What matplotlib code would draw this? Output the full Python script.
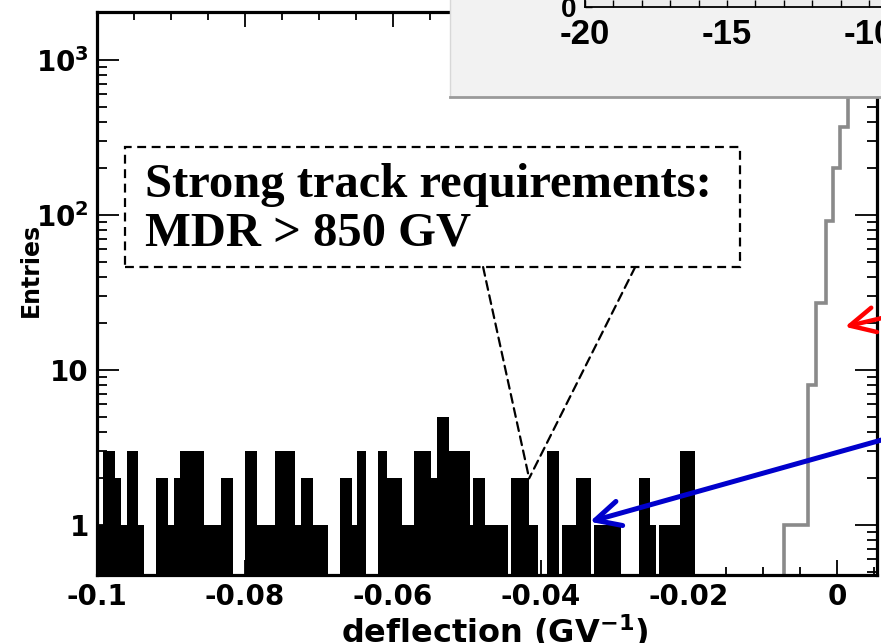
import numpy as np
import matplotlib
matplotlib.use("Agg")
import matplotlib.pyplot as plt
from matplotlib.ticker import FixedLocator, LogLocator, MultipleLocator, NullFormatter
from matplotlib.patches import Rectangle

# histograma preto (eventos com requisitos fortes de traco), bordas dos bins em GV^-1
black_edges = [-0.1000, -0.0992, -0.0976, -0.0968, -0.0960, -0.0944, -0.0936, -0.0920,
               -0.0904, -0.0896, -0.0888, -0.0856, -0.0832, -0.0816, -0.0800, -0.0784,
               -0.0760, -0.0732, -0.0724, -0.0708, -0.0688, -0.0672, -0.0656, -0.0648,
               -0.0636, -0.0620, -0.0608, -0.0588, -0.0572, -0.0548, -0.0540, -0.0524,
               -0.0496, -0.0492, -0.0476, -0.0444, -0.0440, -0.0416, -0.0404, -0.0392,
               -0.0376, -0.0372, -0.0352, -0.0332, -0.0328, -0.0292, -0.0268, -0.0252,
               -0.0244, -0.0240, -0.0212, -0.0192]
black_counts = [1, 3, 2, 1, 3, 1, 0, 2, 1, 2, 3, 1, 2, 0, 3, 1, 3, 1, 2, 1, 0, 2, 1, 3,
                0, 3, 2, 1, 3, 2, 5, 3, 1, 2, 1, 0, 2, 1, 0, 3, 0, 1, 2, 0, 1, 0, 2, 1,
                0, 1, 3]

# histograma cinza (pico perto de zero)
gray_edges = [-0.0071, -0.0060, -0.0050, -0.0039, -0.0028, -0.0015, -0.0005, 0.0004,
              0.0015, 0.0100]
gray_counts = [1, 1, 1, 8, 27, 92, 200, 370, 5000]

ytick_vals = [1, 10, 100, 1000]
ytick_labels = ["1", "10", r"$10^{2}$", r"$10^{3}$"]
xtick_vals = [-0.1, -0.08, -0.06, -0.04, -0.02, 0]
xtick_labels = ["-0.1", "-0.08", "-0.06", "-0.04", "-0.02", "0"]
inset_xticks = [-20, -15, -10]

plt.rcParams["font.family"] = ["DejaVu Sans"]
plt.rcParams["font.weight"] = "bold"
plt.rcParams["mathtext.default"] = "bf"

W, H = 881, 643
fig = plt.figure(figsize=(W / 100, H / 100), dpi=100)
fig.patch.set_facecolor("white")

ax = fig.add_axes([97 / W, 1 - 575 / H, 780 / W, 563 / H])
ymin, ymax = 0.476, 2040
base = 0.1

bc = np.array(black_counts, dtype=float)
ax.stairs(np.where(bc > 0, bc, base), black_edges, baseline=base, fill=True,
          color="black", zorder=2)
ax.stairs(gray_counts, gray_edges, baseline=base, color="#8a8a8a", lw=2.6, zorder=2)

ax.set_yscale("log")
ax.set_xlim(-0.1, 0.00541)
ax.set_ylim(ymin, ymax)
ax.yaxis.set_major_locator(FixedLocator(ytick_vals))
ax.set_yticklabels(ytick_labels)
ax.yaxis.set_minor_locator(LogLocator(subs=np.arange(2, 10)))
ax.yaxis.set_minor_formatter(NullFormatter())
ax.set_xticks(xtick_vals)
ax.set_xticklabels(xtick_labels)
ax.xaxis.set_minor_locator(MultipleLocator(0.005))

ax.tick_params(which="both", direction="in", top=True, right=True, width=1.3,
               labelsize=20, pad=6)
ax.tick_params(axis="y", which="major", length=16)
ax.tick_params(axis="y", which="minor", length=7)
ax.tick_params(axis="x", which="major", length=11)
ax.tick_params(axis="x", which="minor", length=6)
for s in ax.spines.values():
    s.set_linewidth(2.3)

ax.set_xlabel(r"deflection (GV$^{-1}$)", fontsize=23, fontweight="bold")
ax.xaxis.set_label_coords(0.51, -0.066)
fig.text(31 / W, 1 - 270 / H, "Entries", rotation=90, ha="center", va="center",
         fontsize=17, fontweight="bold")

# caixa tracejada com o texto
ax.add_patch(Rectangle((0.036, 0.547), 0.788, 0.213, transform=ax.transAxes,
                       fill=False, ls=(0, (4, 2.5)), lw=1.6, color="black", zorder=4))
ax.text(0.0615, 0.650, "Strong track requirements:\nMDR > 850 GV",
        transform=ax.transAxes, ha="left", va="center", fontsize=35,
        fontweight="bold", family="Liberation Serif", linespacing=1.13, zorder=4)
for xb in [0.495, 0.690]:
    ax.annotate("", xy=(-0.0416, 2), xycoords="data", xytext=(xb, 0.547),
                textcoords="axes fraction",
                arrowprops=dict(arrowstyle="-", ls=(0, (4, 2.5)), lw=1.6,
                                color="black", shrinkA=0, shrinkB=0), zorder=4)

# setas azul e vermelha
ax.annotate("", xy=(-0.0334, 1.05), xycoords="data", xytext=(960, H - 418),
            textcoords="figure pixels", annotation_clip=False,
            arrowprops=dict(arrowstyle="->,head_length=0.9,head_width=0.45", lw=3.6,
                            color="#0000cc", shrinkA=0, shrinkB=0, mutation_scale=20),
            zorder=5)
ax.annotate("", xy=(0.00108, 19), xycoords="data", xytext=(920, H - 309),
            textcoords="figure pixels", annotation_clip=False,
            arrowprops=dict(arrowstyle="->,head_length=0.9,head_width=0.45", lw=3.2,
                            color="#ff0000", shrinkA=0, shrinkB=0, mutation_scale=20),
            zorder=5)

# inset (cortado no canto superior direito)
box = fig.add_axes([450 / W, 1 - 97 / H, 1, 1], zorder=5)
box.set_facecolor("#f2f2f2")
box.set_xticks([])
box.set_yticks([])
for name, s in box.spines.items():
    s.set_color("#d8d8d8")
    s.set_linewidth(1)
box.spines["bottom"].set_color("#9a9a9a")
box.spines["bottom"].set_linewidth(2)

ins = fig.add_axes([585 / W, 1 - 7 / H, 415 / W, 0.3], zorder=6)
ins.set_facecolor("#ececec")
ins.set_xlim(-20, -20 + 415 / 28.4)
ins.set_ylim(0, 1)
ins.set_xticks(inset_xticks)
ins.set_xticklabels([str(v) for v in inset_xticks])
ins.xaxis.set_minor_locator(MultipleLocator(1))
ins.set_yticks([0])
ins.set_yticklabels(["0"])
ins.tick_params(which="both", direction="in", width=1, length=5, pad=8)
ins.tick_params(axis="x", labelsize=25)
ins.tick_params(axis="y", labelsize=20, pad=6)
for lab in ins.get_xticklabels() + ins.get_yticklabels():
    lab.set_family("Liberation Sans")
    lab.set_fontweight("bold")
for s in ins.spines.values():
    s.set_linewidth(1.3)

fig.savefig("out.png", dpi=100)
